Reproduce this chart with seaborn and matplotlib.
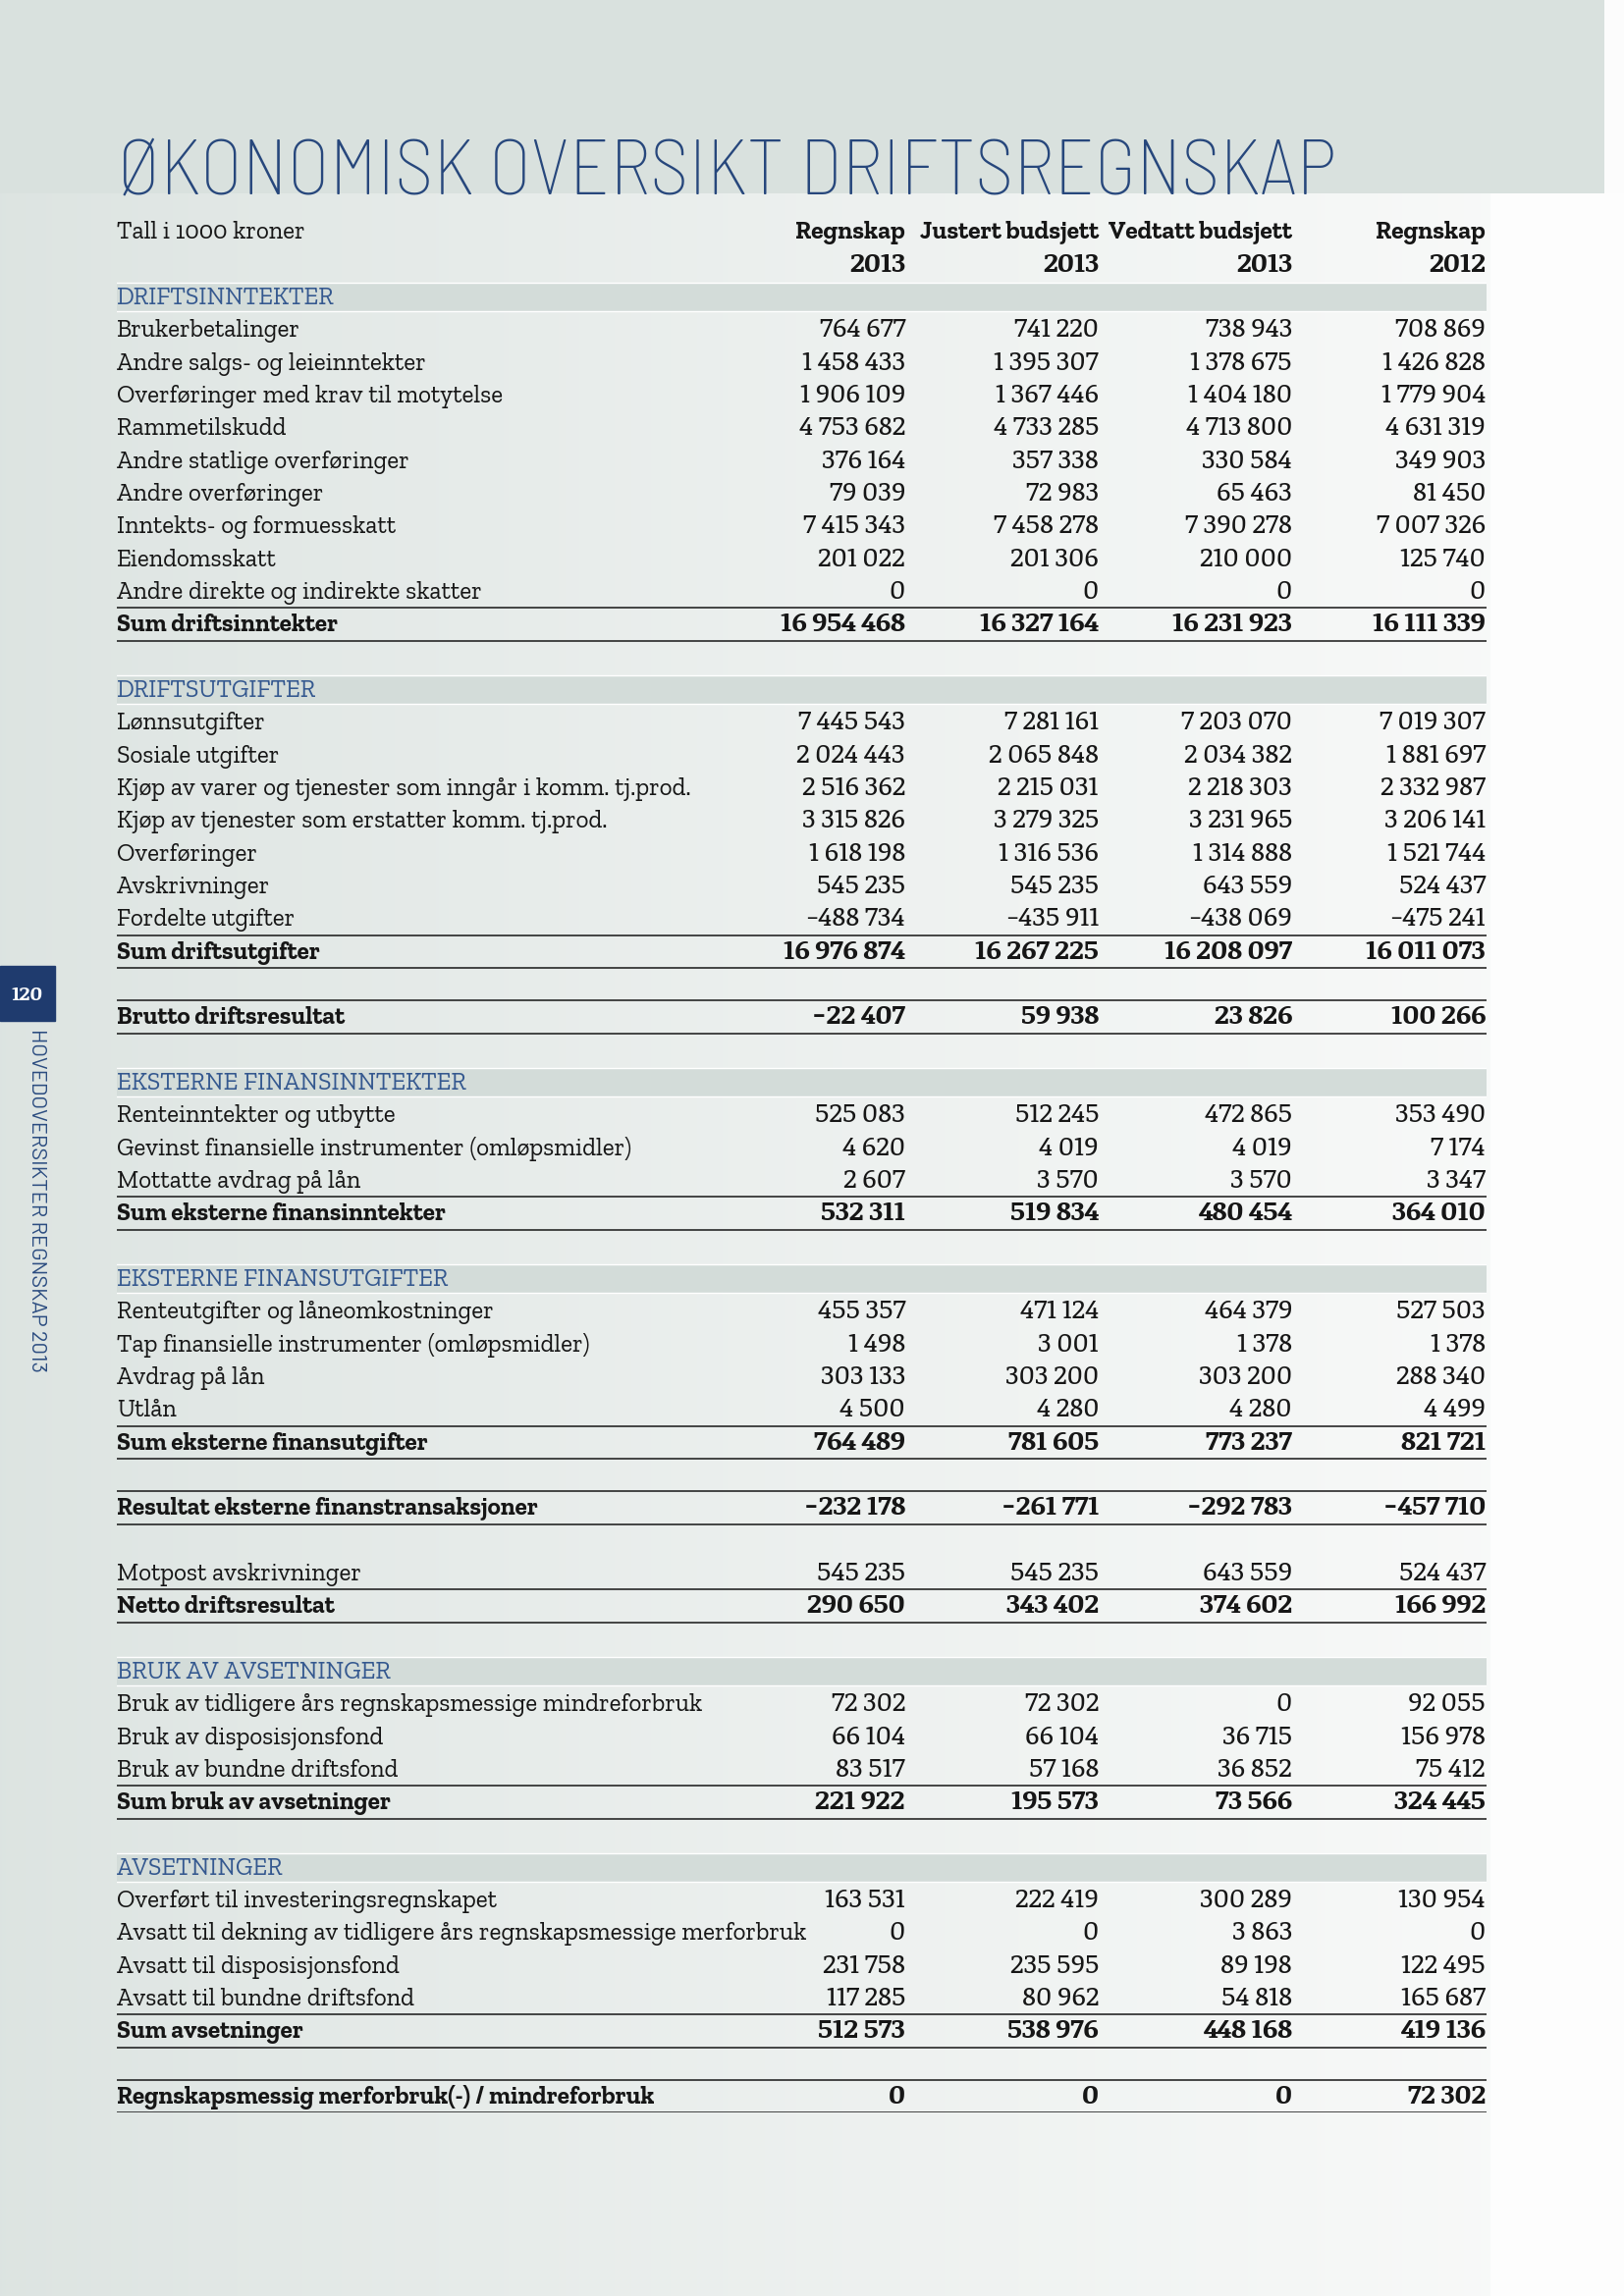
import matplotlib
matplotlib.use("Agg")
import numpy as np
import seaborn as sns
import matplotlib.pyplot as plt
from matplotlib.patches import Rectangle

# ---- data (Tall i 1000 kroner) ----
col_titles = ["Regnskap", "Justert budsjett", "Vedtatt budsjett", "Regnskap"]
col_years = ["2013", "2013", "2013", "2012"]

row_kinds = [
    "section", "item", "item", "item", "item", "item", "item", "item", "item", "item", "sum", "blank",
    "section", "item", "item", "item", "item", "item", "item", "item", "sum", "blank",
    "result", "blank",
    "section", "item", "item", "item", "sum", "blank",
    "section", "item", "item", "item", "item", "sum", "blank",
    "result", "blank",
    "item", "sum", "blank",
    "section", "item", "item", "item", "sum", "blank",
    "section", "item", "item", "item", "item", "sum", "blank",
    "result",
]
row_labels = [
    "DRIFTSINNTEKTER", "Brukerbetalinger", "Andre salgs- og leieinntekter",
    "Overføringer med krav til motytelse", "Rammetilskudd", "Andre statlige overføringer",
    "Andre overføringer", "Inntekts- og formuesskatt", "Eiendomsskatt",
    "Andre direkte og indirekte skatter", "Sum driftsinntekter", "",
    "DRIFTSUTGIFTER", "Lønnsutgifter", "Sosiale utgifter",
    "Kjøp av varer og tjenester som inngår i komm. tj.prod.",
    "Kjøp av tjenester som erstatter komm. tj.prod.", "Overføringer", "Avskrivninger",
    "Fordelte utgifter", "Sum driftsutgifter", "",
    "Brutto driftsresultat", "",
    "EKSTERNE FINANSINNTEKTER", "Renteinntekter og utbytte",
    "Gevinst finansielle instrumenter (omløpsmidler)", "Mottatte avdrag på lån",
    "Sum eksterne finansinntekter", "",
    "EKSTERNE FINANSUTGIFTER", "Renteutgifter og låneomkostninger",
    "Tap finansielle instrumenter (omløpsmidler)", "Avdrag på lån", "Utlån",
    "Sum eksterne finansutgifter", "",
    "Resultat eksterne finanstransaksjoner", "",
    "Motpost avskrivninger", "Netto driftsresultat", "",
    "BRUK AV AVSETNINGER", "Bruk av tidligere års regnskapsmessige mindreforbruk",
    "Bruk av disposisjonsfond", "Bruk av bundne driftsfond", "Sum bruk av avsetninger", "",
    "AVSETNINGER", "Overført til investeringsregnskapet",
    "Avsatt til dekning av tidligere års regnskapsmessige merforbruk",
    "Avsatt til disposisjonsfond", "Avsatt til bundne driftsfond", "Sum avsetninger", "",
    "Regnskapsmessig merforbruk(-) / mindreforbruk",
]
N = None
regnskap_2013 = [
    N, 764677, 1458433, 1906109, 4753682, 376164, 79039, 7415343, 201022, 0, 16954468, N,
    N, 7445543, 2024443, 2516362, 3315826, 1618198, 545235, -488734, 16976874, N,
    -22407, N,
    N, 525083, 4620, 2607, 532311, N,
    N, 455357, 1498, 303133, 4500, 764489, N,
    -232178, N,
    545235, 290650, N,
    N, 72302, 66104, 83517, 221922, N,
    N, 163531, 0, 231758, 117285, 512573, N,
    0,
]
justert_2013 = [
    N, 741220, 1395307, 1367446, 4733285, 357338, 72983, 7458278, 201306, 0, 16327164, N,
    N, 7281161, 2065848, 2215031, 3279325, 1316536, 545235, -435911, 16267225, N,
    59938, N,
    N, 512245, 4019, 3570, 519834, N,
    N, 471124, 3001, 303200, 4280, 781605, N,
    -261771, N,
    545235, 343402, N,
    N, 72302, 66104, 57168, 195573, N,
    N, 222419, 0, 235595, 80962, 538976, N,
    0,
]
vedtatt_2013 = [
    N, 738943, 1378675, 1404180, 4713800, 330584, 65463, 7390278, 210000, 0, 16231923, N,
    N, 7203070, 2034382, 2218303, 3231965, 1314888, 643559, -438069, 16208097, N,
    23826, N,
    N, 472865, 4019, 3570, 480454, N,
    N, 464379, 1378, 303200, 4280, 773237, N,
    -292783, N,
    643559, 374602, N,
    N, 0, 36715, 36852, 73566, N,
    N, 300289, 3863, 89198, 54818, 448168, N,
    0,
]
regnskap_2012 = [
    N, 708869, 1426828, 1779904, 4631319, 349903, 81450, 7007326, 125740, 0, 16111339, N,
    N, 7019307, 1881697, 2332987, 3206141, 1521744, 524437, -475241, 16011073, N,
    100266, N,
    N, 353490, 7174, 3347, 364010, N,
    N, 527503, 1378, 288340, 4499, 821721, N,
    -457710, N,
    524437, 166992, N,
    N, 92055, 156978, 75412, 324445, N,
    N, 130954, 0, 122495, 165687, 419136, N,
    72302,
]
columns = [regnskap_2013, justert_2013, vedtatt_2013, regnskap_2012]

# ---- style ----
sns.set_theme(style="white")
SLAB = ["Zilla Slab", "DejaVu Serif"]
NUM = ["Noticia Text", "DejaVu Serif"]
COND = ["Barlow Semi Condensed", "DejaVu Sans"]
SANS = ["Barlow", "DejaVu Sans"]
plt.rcParams["font.family"] = SLAB

INK = "#161616"
NAVY = "#27477c"
BLUE = "#34588f"
BAND = "#d3dcd9"


def fmt(v):
    s = f"{abs(v):,}".replace(",", "\u2009")
    return "-" + s if v < 0 else s


W, H = 1654, 2339
fig = plt.figure(figsize=(W / 100, H / 100), dpi=100)
renderer = fig.canvas.get_renderer()


def fit_size(text, family, weight, target_px, base=20.0):
    t = fig.text(0, 0, text, family=family, fontweight=weight, fontsize=base)
    w = t.get_window_extent(renderer).width
    t.remove()
    return base * target_px / w


fs = fit_size("Avsatt til dekning av tidligere års regnskapsmessige merforbruk", SLAB, "normal", 700)
fs_num = fit_size(fmt(4753682), NUM, "normal", 108)
fs_head = fit_size("Justert budsjett", SLAB, "bold", 182)
fs_title = fit_size("ØKONOMISK OVERSIKT DRIFTSREGNSKAP", COND, "light", 1240)
fs_side = fit_size("HOVEDOVERSIKTER REGNSKAP 2013", SANS, "normal", 351)
fs_page = fit_size("120", NUM, "bold", 32)

# page background
bg = fig.add_axes([0, 0, 1, 1])
bg.set_xlim(0, W)
bg.set_ylim(H, 0)
bg.axis("off")
xs = np.arange(W)
t = np.clip(xs / 1518, 0, 1) ** 0.9
left_c = np.array([0.866, 0.894, 0.884])
right_c = np.array([0.972, 0.977, 0.974])
line = left_c + (right_c - left_c) * t[:, None]
line[xs >= 1518] = [0.995, 0.995, 0.993]
img = np.tile(line, (H, 1, 1))
img[:197, :1634] = [0.851, 0.886, 0.873]
img[:197, 1634:] = [0.99, 0.99, 0.99]
bg.imshow(img, extent=(0, W, H, 0), aspect="auto", interpolation="nearest", zorder=0)

bg.text(120, 198, "ØKONOMISK OVERSIKT DRIFTSREGNSKAP", family=COND, fontweight="light",
        fontsize=fs_title, color=NAVY, ha="left", va="baseline")

bg.add_patch(Rectangle((0, 984), 56, 56, color="#1f3b6e", zorder=2))
bg.text(28, 1013, "120", family=NUM, color="white", fontsize=fs_page, fontweight="bold",
        ha="center", va="center", zorder=3)
bg.text(37, 1048, "HOVEDOVERSIKTER REGNSKAP 2013", family=SANS, fontweight="normal",
        rotation=-90, fontsize=fs_side, color="#2b4c80", ha="center", va="top")

# table
n_rows = len(row_kinds) + 2
top_px, step = 236, 33.33
y0 = top_px - 0.5 * step
y1 = top_px + (n_rows - 0.5) * step
ax = fig.add_axes([119 / W, 1 - y1 / H, 1395 / W, (y1 - y0) / H])
ax.set_xlim(0, 1395)
ax.set_ylim(n_rows - 0.5, -0.5)
ax.axis("off")
ax.patch.set_alpha(0)

col_right = [803, 1000, 1197, 1394]
base = 0.22

ax.text(0, 0 + base, "Tall i 1000 kroner", fontsize=fs, color=INK, va="baseline")
for cr, ttl, yr in zip(col_right, col_titles, col_years):
    ax.text(cr, 0 + base, ttl, fontsize=fs_head, fontweight="bold", color=INK, ha="right", va="baseline")
    ax.text(cr, 1 + base, yr, family=NUM, fontsize=fs_num, fontweight="bold", color=INK,
            ha="right", va="baseline")

rows = np.arange(len(row_kinds)) + 2
section_rows = [r for r, k in zip(rows, row_kinds) if k == "section"]
ax.barh(section_rows, width=1403, left=-4, height=0.86, color=BAND, zorder=1)

for r, kind, label in zip(rows, row_kinds, row_labels):
    if kind == "blank":
        continue
    if kind == "section":
        ax.text(0, r + base, label, fontsize=fs, color=BLUE, va="baseline", zorder=3)
        continue
    bold = "bold" if kind in ("sum", "result") else "normal"
    ax.text(0, r + base, label, fontsize=fs, fontweight=bold, color=INK, va="baseline", zorder=3)
    for cr, vals in zip(col_right, columns):
        ax.text(cr, r + base, fmt(vals[r - 2]), family=NUM, fontsize=fs_num, fontweight=bold,
                color=INK, ha="right", va="baseline", zorder=3)
    if kind in ("sum", "result"):
        ax.axhline(r - 0.5, color=INK, lw=1.1, zorder=2)
        ax.axhline(r + 0.5, color=INK, lw=1.1, zorder=2)

fig.savefig("out.png", dpi=100)
